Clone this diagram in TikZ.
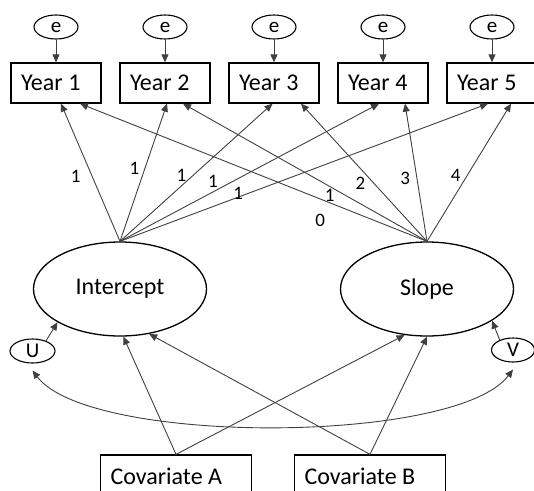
\documentclass[tikz,border=0pt]{standalone}
\usepackage{fontspec}
\setmainfont{Carlito}
\usetikzlibrary{arrows.meta,shapes.geometric}
\begin{document}
\begin{tikzpicture}[
  x=1pt, y=-1pt,
  obs/.style={draw, line width=1.3pt, align=left, text width=70pt, inner xsep=10pt, inner ysep=0pt, minimum height=40pt, font=\fontsize{24}{28}\selectfont, execute at begin node={\spaceskip=5.5pt\relax}},
  latent/.style={draw, ellipse, line width=1.3pt, inner sep=0pt, minimum width=173pt, minimum height=94pt, font=\fontsize{24}{28}\selectfont},
  resid/.style={draw, ellipse, line width=1.1pt, inner sep=0pt, minimum width=44pt, minimum height=24pt, font=\fontsize{21}{24}\selectfont},
  link/.style={-{Triangle[length=8pt,width=7pt]}, line width=0.9pt, black!75},
  wt/.style={black, inner sep=0pt, font=\fontsize{19}{22}\selectfont}
]
\clip (0,0) rectangle (534,490);
% residuals and observed years
\node[resid] (e1) at (56,27) {e};
\node[resid] (e2) at (165,27) {e};
\node[resid] (e3) at (274,27) {e};
\node[resid] (e4) at (383,27) {e};
\node[resid] (e5) at (492,27) {e};
\node[obs] (year1) at (56,83) {Year 1};
\node[obs] (year2) at (165,83) {Year 2};
\node[obs] (year3) at (274,83) {Year 3};
\node[obs] (year4) at (383,83) {Year 4};
\node[obs] (year5) at (492,83) {Year 5};
\draw[link] (e1) -- (year1);
\draw[link] (e2) -- (year2);
\draw[link] (e3) -- (year3);
\draw[link] (e4) -- (year4);
\draw[link] (e5) -- (year5);
% growth factors
\node[latent] (icpt) at (120,289) {Intercept};
\node[latent] (slope) at (427,289) {Slope};
\node[resid, minimum width=45pt] (u) at (32.5,351) {U};
\node[resid, minimum width=43pt] (v) at (513,350) {V};
% covariates
\node[obs, text width=131pt, minimum height=42pt] (cova) at (176,476) {Covariate A};
\node[obs, text width=131pt, minimum height=42pt] (covb) at (370,476) {Covariate B};
% loadings
\draw[link] (icpt.north) -- node[wt, pos=0.475, xshift=-16.4pt] (w1) {1} ([xshift=5pt]year1.south);
\draw[link] (icpt.north) -- node[wt, pos=0.532, xshift=-10.5pt] (w2) {1} ([xshift=2pt]year2.south);
\draw[link] (icpt.north) -- node[wt, pos=0.482, xshift=-12pt] (w3) {1} ([xshift=-1.5pt]year3.south);
\draw[link] (icpt.north) -- node[wt, pos=0.433, xshift=-19.3pt] (w4) {1} ([xshift=-4pt]year4.south);
\draw[link] (icpt.north) -- node[wt, pos=0.347, xshift=-9.4pt] (w5) {1} ([xshift=-4pt]year5.south);
\draw[link] (slope.north) -- node[wt, pos=0.308, yshift=-21.1pt] (s1) {0} ([xshift=24pt]year1.south);
\draw[link] (slope.north) -- node[wt, pos=0.399, yshift=-9.1pt] (s2) {1} ([xshift=18pt]year2.south);
\draw[link] (slope.north) -- node[wt, pos=0.419, xshift=-13.8pt] (s3) {2} ([xshift=27pt]year3.south);
\draw[link] (slope.north) -- node[wt, pos=0.455, xshift=-11.7pt] (s4) {3} ([xshift=22pt]year4.south);
\draw[link] (slope.north) -- node[wt, pos=0.48, xshift=-11.6pt] (s5) {4} ([xshift=19pt]year5.south);
% disturbances and covariate paths
\draw[link] (u.37) -- (icpt.208);
\draw[link] (v.143) -- (slope.-26);
\draw[link] (cova.north) -- (icpt.-86);
\draw[link] (cova.north) -- (slope.-116);
\draw[link] (covb.north) -- (icpt.-57);
\draw[link] (covb.north) -- (slope.south);
\draw[link, {Triangle[length=8pt,width=7pt]}-{Triangle[length=8pt,width=7pt]}] ([yshift=-7pt]u.south) .. controls +(57,75) and +(-57,75) .. ([yshift=-7pt]v.south);
\end{tikzpicture}
\end{document}
